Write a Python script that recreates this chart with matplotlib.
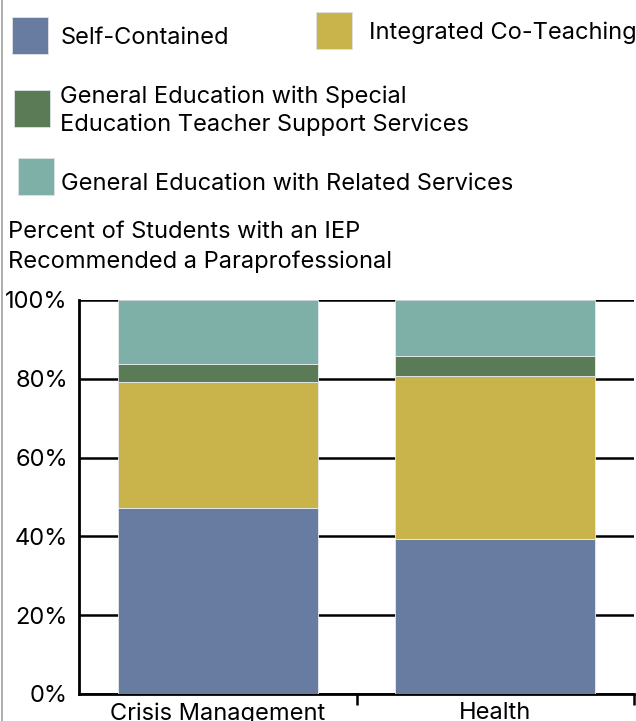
import matplotlib
matplotlib.use("Agg")
import numpy as np
from matplotlib import pyplot as plt
from matplotlib.patches import Rectangle
from matplotlib.lines import Line2D

plt.rcParams['font.family'] = ['Inter', 'DejaVu Sans']

# -- DATA --
categories = ["Crisis Management", "Health"]
series_names = [
    "Self-Contained",
    "Integrated Co-Teaching",
    "General Education with Special\nEducation Teacher Support Services",
    "General Education with Related Services",
]
self_contained = [47.2, 39.3]
integrated_co_teaching = [32.0, 41.4]
setss = [4.6, 5.1]
related_services = [16.2, 14.2]
series_values = [self_contained, integrated_co_teaching, setss, related_services]
colors = ["#687ba1", "#c9b44c", "#5b7a56", "#7eb0a8"]
y_ticks = [0, 20, 40, 60, 80, 100]
y_tick_labels = ["0%", "20%", "40%", "60%", "80%", "100%"]

FS = 17

fig = plt.figure(figsize=(6.36, 7.21), dpi=100)
ax = fig.add_axes([79 / 636, 27 / 721, 555 / 636, 394 / 721])

x = np.arange(len(categories))
bottom = np.zeros(len(categories))
for vals, col, name in zip(series_values, colors, series_names):
    ax.bar(x, vals, width=0.72, bottom=bottom, color=col, edgecolor="#e8ecef",
           linewidth=0.6, zorder=3, label=name)
    bottom += np.array(vals)

ax.set_xlim(-0.5, len(categories) - 0.5)
ax.set_ylim(0, 100)
ax.set_yticks(y_ticks)
ax.set_yticklabels(y_tick_labels, fontsize=FS)
ax.tick_params(axis="y", length=0, pad=8)
ax.yaxis.grid(True, color="black", linewidth=1.8, zorder=1)

# boundary ticks (major) and centred labels (minor)
ax.set_xticks(np.arange(len(categories)) + 0.5)
ax.set_xticklabels([])
ax.tick_params(axis="x", which="major", length=8, width=1.8, color="black")
ax.set_xticks(x, minor=True)
ax.set_xticklabels(categories, minor=True, fontsize=FS)
ax.tick_params(axis="x", which="minor", length=0, pad=6)

for s in ["top", "right"]:
    ax.spines[s].set_visible(False)
for s in ["left", "bottom"]:
    ax.spines[s].set_linewidth(2)
    ax.spines[s].set_color("black")
ax.set_axisbelow(True)

# y-axis title
fig.text(8 / 636, 1 - 247 / 721, "Percent of Students with an IEP\nRecommended a Paraprofessional",
         fontsize=FS, ha="left", va="center", linespacing=1.45)

# manual legend
legend_pos = [  # (square x, square y top, text x, text y center) in pixels
    (12, 17, 61, 38),
    (316, 12, 369, 33),
    (14, 90, 60, 111),
    (18, 158, 61, 184),
]
W, H = 636, 721
for (sx, sy, tx, ty), col, name in zip(legend_pos, colors, series_names):
    fig.add_artist(Rectangle((sx / W, 1 - (sy + 37) / H), 36 / W, 37 / H,
                             transform=fig.transFigure, facecolor=col,
                             edgecolor="#dde3e6", linewidth=0.6))
    fig.text(tx / W, 1 - ty / H, name, fontsize=FS, ha="left", va="center",
             linespacing=1.3)

# left border line
fig.add_artist(Line2D([1.5 / W, 1.5 / W], [0, 1], transform=fig.transFigure,
                      color="#a0a0a0", linewidth=1.2))

fig.savefig("out.png", dpi=100)
